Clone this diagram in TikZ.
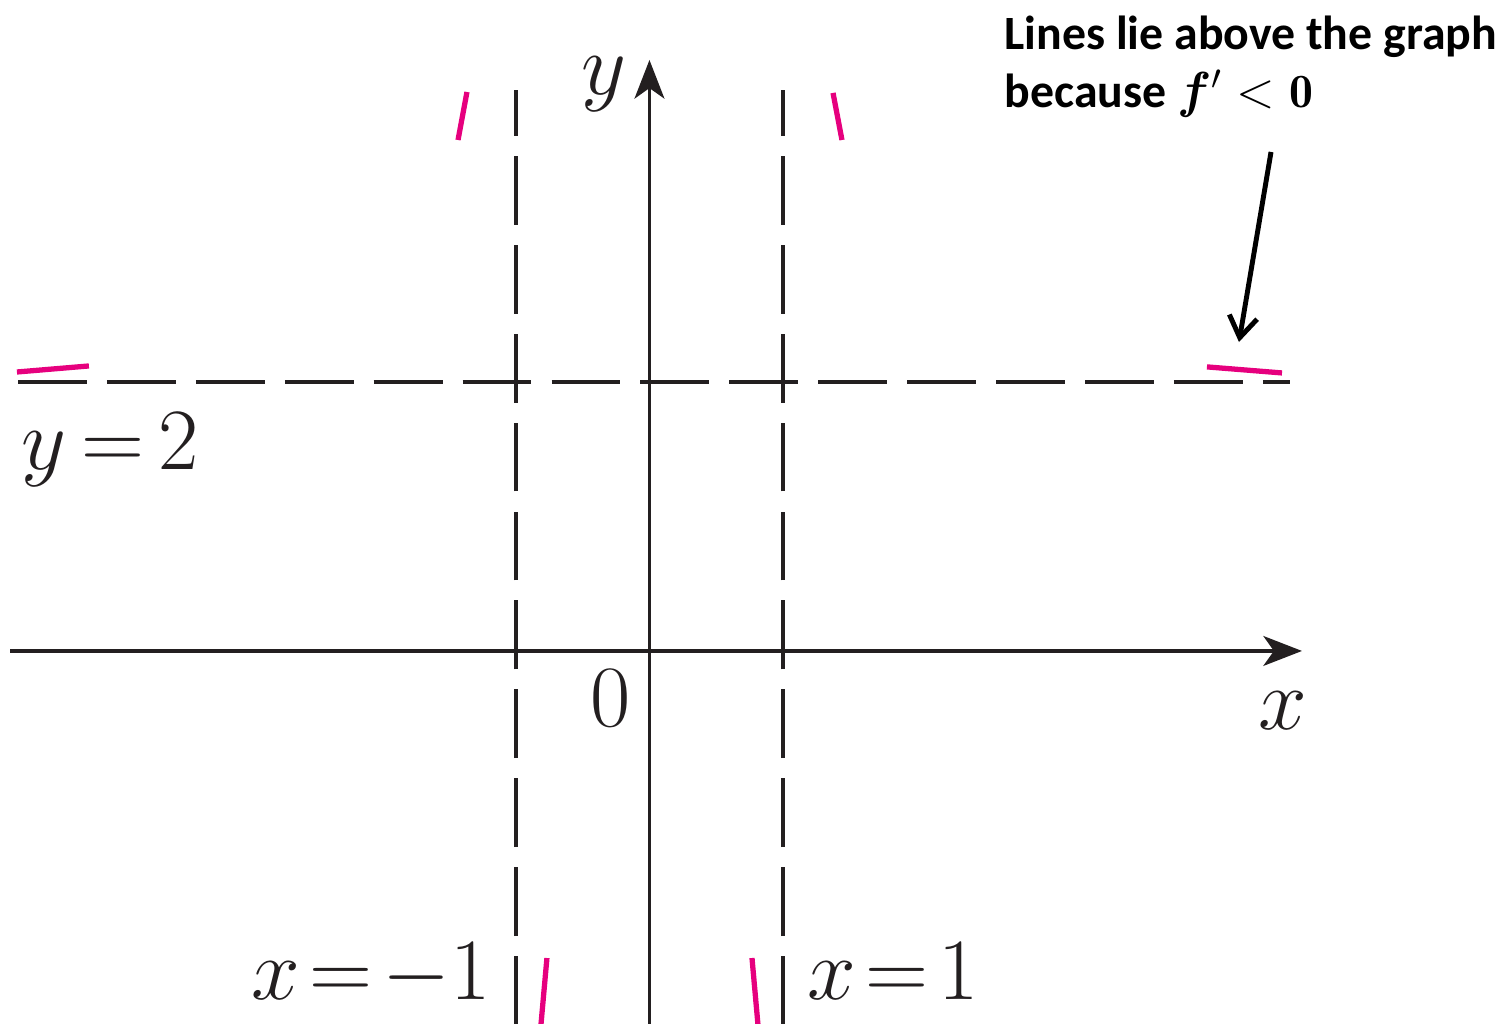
\documentclass[tikz,border=0pt]{standalone}
\usepackage{fontspec}
\usepackage{amsmath,bm}
\newfontfamily\notefont{Carlito}
\usetikzlibrary{arrows.meta}
\definecolor{ink}{RGB}{35,31,32}
\definecolor{tang}{RGB}{230,0,126}
\newcommand{\eqsp}{\mkern2mu}
\tikzset{
  every picture/.style={ink, line width=0.9pt},
  % Achsen und Asymptoten
  axis/.style={line width=0.9pt, -{Stealth[length=11pt,width=8.5pt,inset=3pt]}},
  asym/.style={line width=1pt, dash pattern=on 19.6pt off 5.7pt},
  % Tangentenstuecke
  tan/.style={tang, line width=1.5pt},
  % Beschriftung
  lab/.style={font=\fontsize{24}{28}\selectfont, inner sep=0pt},
  note/.style={font=\notefont\bfseries\fontsize{13.6}{16.6}\selectfont, align=left, inner sep=0pt, text=black},
  callout/.style={black, line width=1.4pt, -{Straight Barb[length=6pt,width=8pt]}},
}
\begin{document}
\begin{tikzpicture}[x=1.335cm, y=1.345cm]
  \useasboundingbox (-4.865,-2.773) rectangle (6.401,4.840);
  % ---------- Asymptoten ----------
  \draw[asym] (-4.730,2) -- (4.798,2);
  \draw[asym] (-1,-2.781) -- (-1,4.171);
  \draw[asym] (1,-2.781) -- (1,4.171);
  % ---------- Achsen ----------
  \draw[axis] (-4.790,0) -- (4.888,0);
  \draw[axis] (0,-2.781) -- (0,4.394);
  % ---------- Tangentenstuecke ----------
  \foreach \a/\b in {{-1.367,4.156}/{-1.434,3.799}, {1.375,4.149}/{1.442,3.799},
      {-4.738,2.074}/{-4.199,2.119}, {4.176,2.112}/{4.738,2.067},
      {-0.768,-2.283}/{-0.813,-2.781}, {0.768,-2.283}/{0.813,-2.781}}
    \draw[tan] (\a) -- (\b);
  % ---------- Beschriftung ----------
  \node[lab, font=\fontsize{26}{30}\selectfont] (ylab) at (-0.341,4.216) {$y$};
  \node[lab, anchor=base] (xlab) at (4.746,-0.587) {$x$};
  \node[lab, anchor=base] (orig) at (-0.288,-0.565) {$0$};
  \node[lab, anchor=base west] (hasym) at (-4.715,1.346) {$y\,{=}\,2$};
  \node[lab, anchor=base east] (lasym) at (-1.180,-2.595) {$x\eqsp{=}\eqsp{-}1$};
  \node[lab, anchor=base west] (rasym) at (1.172,-2.595) {$x\eqsp{=}\eqsp1$};
  \node[note, anchor=north west] (note) at (2.648,4.736)
    {Lines lie above the graph\\because $\bm{f}'<\mathbf{0}$};
  \coordinate (noteTail) at (4.656,3.710);
  \coordinate (noteTip) at (4.416,2.297);
  \draw[callout] (noteTail) -- (noteTip);
\end{tikzpicture}
\end{document}
